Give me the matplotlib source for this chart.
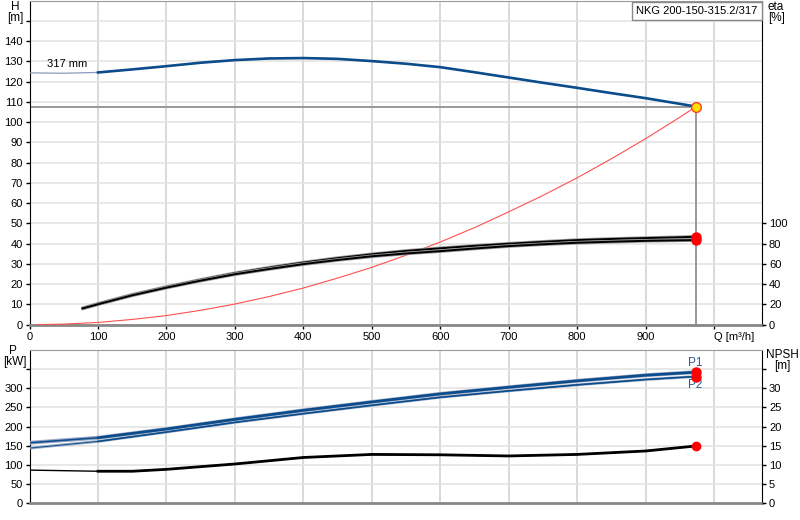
import numpy as np
import matplotlib.pyplot as plt

# Q axis (m3/h)
q_h = [0, 50, 100, 150, 200, 250, 300, 350, 400, 450, 500, 550, 600, 650, 700, 750, 800, 850, 900, 950, 973]
head = [124.3, 124.1, 124.5, 126.0, 127.6, 129.3, 130.6, 131.4, 131.6, 131.2, 130.1, 128.8, 127.1, 124.6,
        122.0, 119.4, 116.9, 114.3, 111.8, 109.0, 107.7]

# system curve
q_sys = [10, 50, 100, 150, 200, 250, 300, 350, 400, 450, 500, 550, 600, 650, 700, 750, 800, 850, 900, 950, 973]
h_sys = [0.0, 0.3, 1.1, 2.6, 4.5, 7.1, 10.2, 13.9, 18.1, 23.0, 28.3, 34.3, 40.8, 47.9, 55.7, 63.8, 72.5,
         81.9, 91.8, 102.4, 107.5]

# efficiency (%)
q_eta = [76, 100, 150, 200, 250, 300, 350, 400, 450, 500, 550, 600, 650, 700, 750, 800, 850, 900, 950, 973]
eta1 = [15.8, 20.6, 29.5, 37.2, 44.3, 50.8, 56.3, 61.3, 65.7, 69.5, 72.8, 75.4, 77.8, 79.9, 81.8, 83.5, 84.6,
        85.5, 86.3, 86.8]
eta2 = [15.8, 20.2, 29.0, 36.6, 43.5, 49.8, 55.0, 59.8, 63.9, 67.5, 70.3, 72.6, 75.2, 77.6, 79.4, 80.9, 81.9,
        82.8, 83.3, 83.5]

# power (kW)
q_p = [0, 100, 200, 300, 400, 500, 600, 700, 800, 900, 973]
p1 = [157.5, 170.6, 193.4, 218.7, 242.3, 264.2, 285.3, 302.6, 319.4, 334.1, 342.0]
p2 = [143.5, 161.0, 185.5, 210.8, 233.6, 255.4, 276.4, 293.1, 308.9, 322.8, 330.7]

# NPSH (m)
q_n = [0, 100, 150, 200, 300, 400, 500, 600, 700, 800, 900, 973]
npsh = [8.6, 8.3, 8.3, 8.8, 10.2, 11.9, 12.7, 12.6, 12.3, 12.7, 13.6, 14.9]

q_op, h_op = 973, 107.5
title = "NKG 200-150-315.2/317"

blue = "#0b4d8c"
fs = 8
plt.rcParams['font.family'] = ['Liberation Sans', 'DejaVu Sans']

fig = plt.figure(figsize=(8, 5.2), dpi=100)
ax1 = fig.add_axes([0.037, 0.3756, 0.9155, 0.6234])
ax2 = fig.add_axes([0.037, 0.0327, 0.9155, 0.2942])


def style(ax, ylim, yticks):
    ax.set_xlim(0, 1070)
    ax.set_ylim(*ylim)
    ax.set_xticks(range(0, 1001, 100))
    ax.set_yticks(yticks)
    ax.grid(axis='x', color='#cfcfcf', lw=1.1)
    ax.grid(axis='y', color='#e2e2e2', lw=1.1)
    ax.set_axisbelow(True)
    ax.spines['left'].set_color('black')
    ax.spines['right'].set_color('black')
    ax.spines['top'].set_color('#999999')
    ax.spines['bottom'].set_color('#888888')
    ax.spines['bottom'].set_linewidth(2)
    ax.tick_params(labelsize=fs, length=3, width=1, pad=2)


style(ax1, (0, 160), range(0, 151, 10))
ax1.set_yticklabels([str(v) for v in range(0, 141, 10)] + [""])
ax1.set_xticklabels([str(v) for v in range(0, 901, 100)] + [""])
ax1.text(1030, -3.5, "Q [m³/h]", ha='center', va='top', fontsize=fs)

style(ax2, (0, 400), range(0, 351, 50))
ax2.set_yticklabels([str(v) for v in range(0, 301, 50)] + [""])
ax2.tick_params(axis='x', length=0, labelbottom=False)

# operating point lines
ax1.plot([0, q_op], [h_op, h_op], color='#999999', lw=1.4, zorder=2)
ax1.plot([q_op, q_op], [0, h_op], color='#999999', lw=1.4, zorder=2)

# head curve
q_h = np.array(q_h)
head = np.array(head)
ax1.plot(q_h, head, color='#8a9bbd', lw=0.9, zorder=3)
m = q_h >= 100
ax1.plot(q_h[m], head[m], color=blue, lw=1.9, zorder=4)
ax1.text(25, 126.3, "317 mm", fontsize=fs, va='bottom')

# system curve
ax1.plot(q_sys, h_sys, color='#ff5050', lw=0.8, zorder=3)
ax1.plot(q_op, h_op, 'o', ms=7, mfc='#ffe000', mec='#ff4020', mew=1, zorder=6)

# efficiency on twin axis
ax1b = ax1.twinx()
ax1b.set_ylim(0, 320)
ax1b.set_yticks(range(0, 101, 20))
ax1b.tick_params(labelsize=fs, length=3, width=1, pad=2)
for s in ax1b.spines.values():
    s.set_visible(False)
for e in (eta1, eta2):
    ax1b.plot(q_eta, e, color='#999999', lw=2.6, solid_capstyle='butt')
    ax1b.plot(q_eta, e, color='black', lw=1.4, solid_capstyle='butt')
ax1b.plot([q_op, q_op], [eta1[-1], eta2[-1]], 'o', ms=6.5, color='red', mec='red')
ax1b.plot([q_op, q_op], [eta1[-1], eta2[-1]], color='red', lw=5)

ax1.text(0.9935, 0.983, title, transform=ax1.transAxes, ha='right', va='top', fontsize=fs, zorder=10,
         bbox=dict(boxstyle='square,pad=0.4', fc='white', ec='#888888', lw=1))

# power curves
q_p = np.array(q_p)
m = q_p >= 100
for p, w in ((p1, 1.9), (p2, 1.1)):
    p = np.array(p)
    ax2.plot(q_p, p, color='#9aa8c4', lw=w + 0.9, zorder=3)
    ax2.plot(q_p, p, color=blue, lw=w * 0.6, zorder=3)
    ax2.plot(q_p[m], p[m], color=blue, lw=w, zorder=4)
ax2.plot([q_op, q_op], [p1[-1], p2[-1]], 'o', ms=6.5, color='red', zorder=5)
ax2.plot([q_op, q_op], [p1[-1], p2[-1]], color='red', lw=5, zorder=5)
ax2.text(q_op, p1[-1] + 8, "P1", ha='center', va='bottom', fontsize=fs + 0.5, color='#2a5a95')
ax2.text(q_op, p2[-1] - 6, "P2", ha='center', va='top', fontsize=fs + 0.5, color='#2a5a95')

# NPSH on twin axis
ax2b = ax2.twinx()
ax2b.set_ylim(0, 40)
ax2b.set_yticks(range(0, 36, 5))
ax2b.set_yticklabels([str(v) for v in range(0, 31, 5)] + [""])
ax2b.tick_params(labelsize=fs, length=3, width=1, pad=2)
for s in ax2b.spines.values():
    s.set_visible(False)
q_n = np.array(q_n)
npsh = np.array(npsh)
ax2b.plot(q_n, npsh, color='black', lw=1.0)
m = q_n >= 100
ax2b.plot(q_n[m], npsh[m], color='black', lw=2.0)
ax2b.plot(q_op, npsh[-1], 'o', ms=6, color='red')

# axis titles
W, H = 800, 520
fig.text(15 / W, 1 - 1 / H, "H", ha='center', va='top', fontsize=fs + 0.5)
fig.text(15 / W, 1 - 12 / H, "[m]", ha='center', va='top', fontsize=fs + 0.5)
fig.text(768 / W, 1 - 1 / H, "eta", ha='left', va='top', fontsize=fs + 0.5)
fig.text(768 / W, 1 - 12 / H, "[%]", ha='left', va='top', fontsize=fs + 0.5)
fig.text(13 / W, 1 - 345 / H, "P", ha='center', va='top', fontsize=fs + 0.5)
fig.text(15 / W, 1 - 356 / H, "[kW]", ha='center', va='top', fontsize=fs + 0.5)
fig.text(782 / W, 1 - 349 / H, "NPSH", ha='center', va='top', fontsize=fs + 0.5)
fig.text(782 / W, 1 - 360 / H, "[m]", ha='center', va='top', fontsize=fs + 0.5)

fig.savefig("out.png", dpi=100)
